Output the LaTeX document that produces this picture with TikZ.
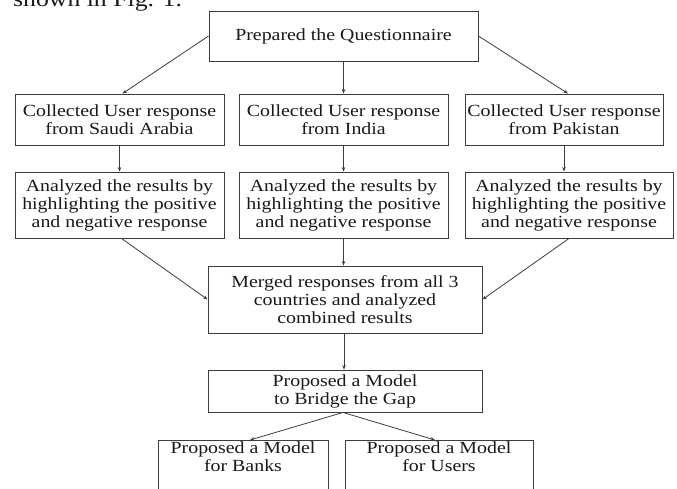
\documentclass[tikz,border=0pt]{standalone}
\usepackage{fontspec}
\setmainfont{Liberation Serif}[FakeStretch=1.17]
\usetikzlibrary{arrows.meta}
\definecolor{linec}{RGB}{60,60,60}
\definecolor{textc}{RGB}{25,25,25}
\tikzset{
  box/.style={draw=linec, line width=0.9pt, align=center, inner sep=1pt,
    text=textc, font=\fontsize{17}{18}\selectfont},
  conn/.style={draw=linec, line width=0.8pt, -{Stealth[length=4.5pt,width=3.5pt]}}
}
\begin{document}
\begin{tikzpicture}[x=1pt,y=-1pt]
\useasboundingbox (0,0) rectangle (677,489);
\fill[white] (0,0) rectangle (677,489);
% partially visible caption text at the top
\node[anchor=base west, inner sep=0, text=textc, font=\fontsize{22}{24}\selectfont] (cap) at (13,7) {shown in Fig. 1.};

\node[box, minimum width=269pt, minimum height=50pt] (top) at (343.5,36) {Prepared the Questionnaire};

\node[box, minimum width=209pt, minimum height=51pt] (cl) at (119.5,119.5) {Collected User response\\from Saudi Arabia};
\node[box, minimum width=209pt, minimum height=51pt] (cm) at (343.5,119.5) {Collected User response\\from India};
\node[box, minimum width=198pt, minimum height=51pt] (cr) at (564,119.5) {Collected User response\\from Pakistan};

\node[box, minimum width=209pt, minimum height=66pt] (al) at (119.5,205) {Analyzed the results by\\highlighting the positive\\and negative response};
\node[box, minimum width=209pt, minimum height=66pt] (am) at (343.5,205) {Analyzed the results by\\highlighting the positive\\and negative response};
\node[box, minimum width=208pt, minimum height=66pt] (ar) at (569,205) {Analyzed the results by\\highlighting the positive\\and negative response};

\node[box, minimum width=274pt, minimum height=67pt] (mg) at (345,299.5) {Merged responses from all 3\\countries and analyzed\\combined results};

\node[box, minimum width=274pt, minimum height=42pt] (pm) at (345,391) {Proposed a Model\\to Bridge the Gap};

\node[box, minimum width=170pt, minimum height=62pt, anchor=north] (pb) at (243,440) {Proposed a Model\\for Banks\\[6pt]\strut};
\node[box, minimum width=188pt, minimum height=62pt, anchor=north] (pu) at (439,440) {Proposed a Model\\for Users\\[6pt]\strut};

\draw[conn] (top.west) -- ([xshift=3pt]cl.north);
\draw[conn] (top.south) -- (cm.north);
\draw[conn] (top.east) -- ([xshift=4pt]cr.north);

\draw[conn] (cl.south) -- (al.north);
\draw[conn] (cm.south) -- (am.north);
\draw[conn] (cr.south) -- (cr.south |- ar.north);

\draw[conn] ([xshift=2pt]al.south) -- (mg.west);
\draw[conn] (ar.south) -- (mg.east);
\draw[conn] (am.south) -- (am.south |- mg.north);

\draw[conn] ([xshift=-1pt]mg.south) -- ([xshift=-1pt]pm.north);
\draw[conn] ([xshift=-2pt]pm.south) -- ([xshift=7pt]pb.north);
\draw[conn] ([xshift=-2pt]pm.south) -- ([xshift=-4pt]pu.north);
\end{tikzpicture}
\end{document}
